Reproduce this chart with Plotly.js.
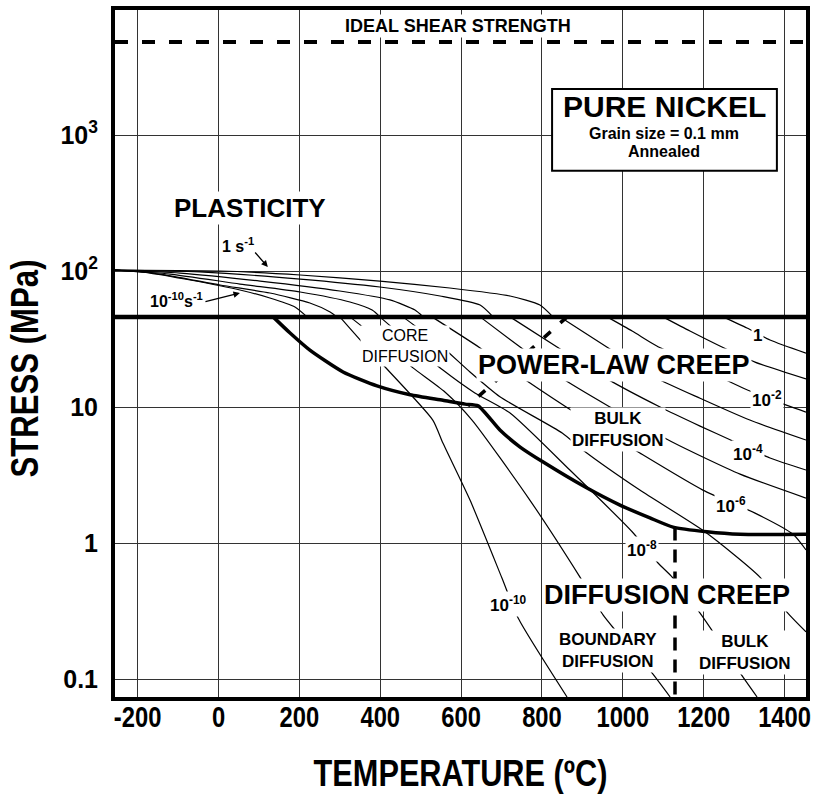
<!DOCTYPE html>
<html><head><meta charset="utf-8">
<script src="https://cdn.plot.ly/plotly-3.0.1.min.js"></script>
<style>html,body{margin:0;padding:0;background:#fff}#chart{width:817px;height:794px}</style>
</head><body><div id="chart"></div>
<script>
// ---- data (temperature in degC, stress in MPa) ----
const xTicks = [-200, 0, 200, 400, 600, 800, 1000, 1200, 1400];
const xTickText = ['-200', '0', '200', '400', '600', '800', '1000', '1200', '1400'];
const yTicks = [0.1, 1, 10, 100, 1000];
const yTickText = ['0.1', '1', '10', '10<sup>2</sup>', '10<sup>3</sup>'];

const idealShearT = [-256, 1453];
const idealShearS = [4830, 4830];
const plasticBoundT = [-256, 1453];
const plasticBoundS = [46, 46];
const diffBoundT = [135, 177, 226, 308, 392, 474, 555, 610, 642, 696, 746, 803, 907, 993, 1067, 1124, 1208, 1290, 1453];
const diffBoundS = [46, 35.0, 26.2, 18.1, 14.3, 12.3, 11.2, 10.5, 10.2, 6.78, 5.08, 3.94, 2.58, 1.90, 1.53, 1.31, 1.21, 1.16, 1.16];
const coreBulkT = [862, 617];
const coreBulkS = [46, 10.2];
const gbBulkT = [1129, 1129];
const gbBulkS = [1.3, 0.0738];

// plasticity-field strain-rate contours (1, 1e-2, ... 1e-10 s^-1)
const plast_0_T = [-256, 4, 202, 399, 572, 721, 795, 827];
const plast_0_S = [101.7, 100, 93.5, 84.4, 75.0, 65.5, 56.2, 46];
const plast_2_T = [-256, -46, 202, 399, 548, 647, 679];
const plast_2_S = [101.7, 98.4, 87.3, 76.3, 65.5, 56.2, 46];
const plast_4_T = [-256, -95, 103, 300, 424, 486, 506];
const plast_4_S = [101.7, 96.6, 84.4, 71.3, 61.3, 51.6, 46];
const plast_6_T = [-256, -120, 53, 202, 325, 380, 399];
const plast_6_S = [101.7, 95.0, 80.2, 70.1, 59.2, 51.6, 46];
const plast_8_T = [-256, -145, 4, 127, 226, 276, 293];
const plast_8_S = [101.7, 95.0, 78.9, 68.9, 58.2, 50.0, 46];
const plast_10_T = [-256, -169, -70, 53, 127, 189, 219];
const plast_10_S = [101.7, 96.6, 85.9, 72.5, 63.3, 54.4, 46];

// creep-field strain-rate contours, 1 ... 1e-10 s^-1
const rate_0_T = [1248, 1307, 1364, 1453];
const rate_0_S = [46, 38.1, 31.1, 24.9];
const rate_1_T = [1099, 1166, 1240, 1327, 1453];
const rate_1_S = [46, 36.2, 28.1, 21.4, 16.1];
const rate_2_T = [961, 1023, 1084, 1166, 1240, 1297, 1376, 1453];
const rate_2_S = [46, 36.2, 28.1, 21.4, 16.6, 13.8, 11.1, 9.18];
const rate_3_T = [845, 968, 1084, 1191, 1314, 1453];
const rate_3_S = [46, 26.7, 16.3, 11.6, 8.02, 5.72];
const rate_4_T = [721, 845, 961, 1092, 1191, 1272, 1364, 1453];
const rate_4_S = [46, 26.7, 16.1, 10.0, 7.24, 5.62, 4.22, 3.44];
const rate_5_T = [647, 746, 845, 968, 1122, 1290, 1453];
const rate_5_S = [46, 27.6, 16.6, 10.0, 5.53, 3.21, 2.14];
const rate_6_T = [528, 647, 753, 899, 1042, 1198, 1327, 1421, 1453];
const rate_6_S = [46, 27.2, 16.3, 8.43, 4.59, 2.45, 1.66, 1.16, 0.889];
const rate_7_T = [456, 548, 622, 696, 850, 901, 1042, 1203, 1339, 1408, 1453];
const rate_7_S = [46, 28.6, 18.1, 11.9, 6.44, 4.83, 2.45, 1.21, 0.562, 0.305, 0.222];
const rate_8_T = [399, 474, 555, 634, 721, 869, 1023, 1087, 1122, 1191, 1228, 1290, 1332];
const rate_8_S = [46, 29.6, 18.7, 12.7, 9.04, 3.44, 1.21, 0.713, 0.562, 0.305, 0.211, 0.111, 0.0738];
const rate_9_T = [325, 382, 481, 560, 627, 770, 894, 951, 981, 1072, 1117];
const rate_9_S = [46, 33.8, 19.4, 12.9, 8.02, 2.07, 0.562, 0.296, 0.229, 0.111, 0.0738];
const rate_10_T = [300, 357, 412, 530, 555, 622, 701, 741, 862];
const rate_10_S = [46, 29.6, 19.7, 8.02, 5.43, 2.07, 0.553, 0.281, 0.0738];

// ---- styling ----
const ARIAL = "'Liberation Sans', Arial, Helvetica, sans-serif";

const thin = {color: '#000', width: 1.2, shape: 'spline', smoothing: 0.6};
const traces = [];
function addLine(T, S, line) {
  traces.push({x: T, y: S, type: 'scatter', mode: 'lines', line: line, hoverinfo: 'skip', showlegend: false});
}
[[plast_0_T, plast_0_S], [plast_2_T, plast_2_S], [plast_4_T, plast_4_S], [plast_6_T, plast_6_S],
 [plast_8_T, plast_8_S], [plast_10_T, plast_10_S],
 [rate_0_T, rate_0_S], [rate_1_T, rate_1_S], [rate_2_T, rate_2_S], [rate_3_T, rate_3_S],
 [rate_4_T, rate_4_S], [rate_5_T, rate_5_S], [rate_6_T, rate_6_S], [rate_7_T, rate_7_S],
 [rate_8_T, rate_8_S], [rate_9_T, rate_9_S], [rate_10_T, rate_10_S]].forEach(p => addLine(p[0], p[1], thin));

addLine(idealShearT, idealShearS, {color: '#000', width: 4, dash: '13px,14px'});
addLine(plasticBoundT, plasticBoundS, {color: '#000', width: 4.5});
addLine(diffBoundT, diffBoundS, {color: '#000', width: 3.5, shape: 'spline', smoothing: 0.6});
addLine(coreBulkT, coreBulkS, {color: '#000', width: 3.5, dash: '9px,13px'});
addLine(gbBulkT, gbBulkS, {color: '#000', width: 3.5, dash: '13px,9px'});

const L = Math.log10;
function lab(T, S, text, size, opts) {
  return Object.assign({x: T, y: L(S), xref: 'x', yref: 'y', text: text, showarrow: false,
    font: {family: ARIAL, size: size, color: '#000', weight: 'bold'}, bgcolor: '#fff', borderpad: 1}, opts || {});
}
const annotations = [
  lab(592, 6320, 'IDEAL SHEAR STRENGTH', 18),
  lab(78, 290, 'PLASTICITY', 26),
  lab(48, 155, '1 s<sup>-1</sup>', 16),
  lab(-105, 61.2, '10<sup>-10</sup>s<sup>-1</sup>', 16),
  lab(461, 28.1, 'CORE<br>DIFFUSION', 16, {font: {family: ARIAL, size: 16, color: '#000', weight: 'normal'}}),
  lab(978, 20.4, 'POWER-LAW CREEP', 27),
  lab(988, 6.89, 'BULK<br>DIFFUSION', 17),
  lab(1332, 33.3, '1', 17),
  lab(1357, 11.5, '10<sup>-2</sup>', 17),
  lab(1310, 4.59, '10<sup>-4</sup>', 17),
  lab(1267, 1.90, '10<sup>-6</sup>', 17),
  lab(1047, 0.904, '10<sup>-8</sup>', 17),
  lab(716, 0.356, '10<sup>-10</sup>', 17),
  lab(1109, 0.415, 'DIFFUSION CREEP', 27),
  lab(963, 0.161, 'BOUNDARY<br>DIFFUSION', 17),
  lab(1302, 0.158, 'BULK<br>DIFFUSION', 17),
  lab(1102, 1620, 'PURE NICKEL', 30, {bgcolor: 'rgba(0,0,0,0)', borderpad: 0}),
  lab(1102, 1030, 'Grain size = 0.1 mm', 16, {bgcolor: 'rgba(0,0,0,0)', borderpad: 0}),
  lab(1102, 750, 'Annealed', 16, {bgcolor: 'rgba(0,0,0,0)', borderpad: 0}),
  // arrows
  {x: 122, y: L(107), xref: 'x', yref: 'y', ax: -14, ay: -16, text: '', showarrow: true,
   arrowhead: 2, arrowsize: 1, arrowwidth: 1.3, arrowcolor: '#000', standoff: 0},
  {x: 53, y: L(68.9), xref: 'x', yref: 'y', ax: -36, ay: 9, text: '', showarrow: true,
   arrowhead: 2, arrowsize: 1, arrowwidth: 1.3, arrowcolor: '#000', standoff: 0}
];

const shapes = [
  {type: 'rect', xref: 'x', yref: 'y', x0: 825, x1: 1381, y0: 545, y1: 2178,
   line: {color: '#000', width: 2}, fillcolor: '#fff', layer: 'above'}
];

const layout = {
  width: 817, height: 794,
  margin: {l: 115, r: 11, t: 10, b: 97},
  paper_bgcolor: '#fff', plot_bgcolor: '#fff',
  showlegend: false,
  xaxis: {
    range: [-256, 1453], tickmode: 'array', tickvals: xTicks, ticktext: xTickText,
    showgrid: true, gridcolor: '#333', gridwidth: 1, zeroline: false,
    showline: true, linecolor: '#000', linewidth: 4, mirror: true, ticks: '',
    ticklabelstandoff: -9, ticklabeloverflow: 'allow',
    tickfont: {family: ARIAL, size: 29, color: '#000', weight: 'bold'},
    title: {text: 'TEMPERATURE (ºC)', font: {family: ARIAL, size: 37, color: '#000', weight: 'bold'}, standoff: 40}
  },
  yaxis: {
    type: 'log', range: [-1.132, 3.919], tickmode: 'array', tickvals: yTicks, ticktext: yTickText,
    showgrid: true, gridcolor: '#333', gridwidth: 1, zeroline: false,
    showline: true, linecolor: '#000', linewidth: 4, mirror: true, ticks: '',
    ticklabelstandoff: 8,
    tickfont: {family: ARIAL, size: 25, color: '#000', weight: 'bold'},
    title: {text: 'STRESS (MPa)', font: {family: ARIAL, size: 38, color: '#000', weight: 'bold'}, standoff: 14}
  },
  annotations: annotations,
  shapes: shapes
};

// condense text horizontally (narrow bold face of the original), optional screen shift
function condense(sel, k, dx, dy) {
  document.querySelectorAll(sel).forEach(t => {
    const x = parseFloat(t.getAttribute('x')) || 0;
    const y = parseFloat(t.getAttribute('y')) || 0;
    const tr = t.getAttribute('transform') || '';
    const pre = (dx || dy) ? 'translate(' + (dx || 0) + ',' + (dy || 0) + ') ' : '';
    t.setAttribute('transform', pre + tr + ' translate(' + x + ',' + y + ') scale(' + k + ',1) translate(' + (-x) + ',' + (-y) + ')');
  });
}
Plotly.newPlot('chart', traces, layout, {displayModeBar: false, staticPlot: true}).then(() => {
  condense('.xtick text', 0.82);
  condense('.g-xtitle text', 0.83);
  condense('.g-ytitle text', 0.82, 3, 15);
});
</script></body></html>
